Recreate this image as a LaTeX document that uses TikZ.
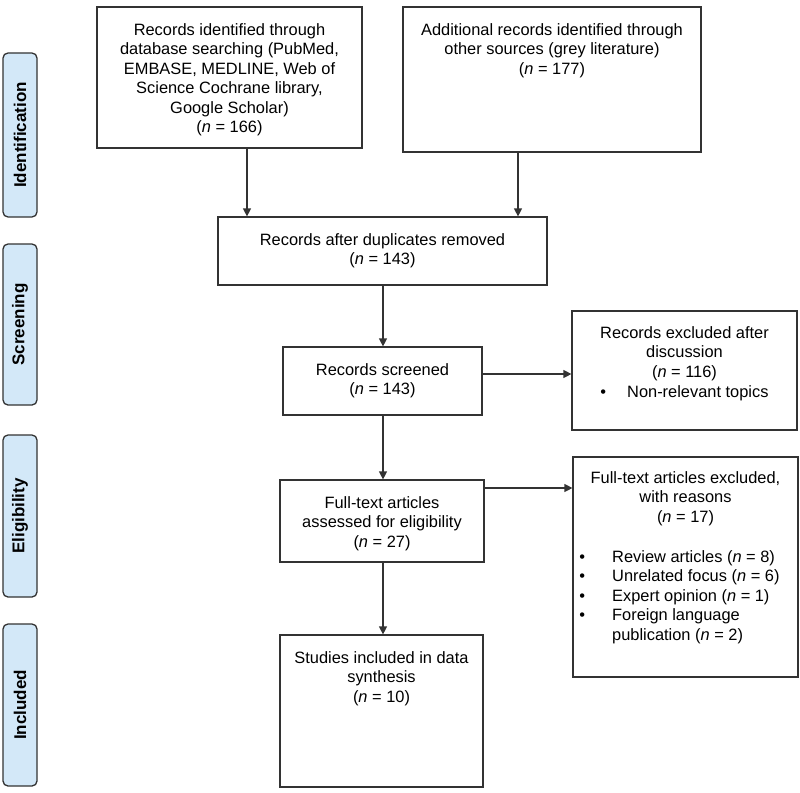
\documentclass[tikz,border=0pt]{standalone}
\usepackage{fontspec}
\setmainfont{Liberation Sans}
\usetikzlibrary{arrows.meta}
\definecolor{sidefill}{HTML}{D3E8F8}
\definecolor{linegray}{HTML}{333333}
\tikzset{
  box/.style={draw=linegray, line width=1.2pt, inner sep=0pt, fill=white},
  sidebox/.style={draw=linegray, line width=1.3pt, rounded corners=5pt, fill=sidefill, inner sep=0pt, minimum width=34pt},
  sidelabel/.style={rotate=90, font=\fontsize{17}{20}\selectfont\bfseries, inner sep=0pt},
  txt/.style={font=\fontsize{16.4}{19.5}\selectfont, align=center, inner sep=0pt, anchor=north},
  ltxt/.style={font=\fontsize{16.4}{19.5}\selectfont, align=left, inner sep=0pt, anchor=north west},
  arr/.style={draw=linegray, line width=1.2pt, -{Triangle[width=8pt,length=8pt]}}
}
\newcommand{\bul}[1]{\llap{\textbullet\hspace{#1}}}
\begin{document}
\begin{tikzpicture}[x=1pt,y=-1pt]
\useasboundingbox (0,0) rectangle (800,792);
% side labels
\node[sidebox, minimum height=164pt] (sid) at (20,135) {};
\node[sidelabel] (lid) at (20,135) {Identification};
\node[sidebox, minimum height=161pt] (ssc) at (20,324.5) {};
\node[sidelabel] (lsc) at (20,324.5) {Screening};
\node[sidebox, minimum height=162pt] (sel) at (20,516) {};
\node[sidelabel] (lel) at (20,516) {Eligibility};
\node[sidebox, minimum height=162pt] (sin) at (20,705) {};
\node[sidelabel] (lin) at (20,705) {Included};
% boxes
\node[box, minimum width=265pt, minimum height=141pt] (b1) at (229.5,77.5) {};
\node[box, minimum width=298pt, minimum height=145pt] (b2) at (552,79.5) {};
\node[box, minimum width=329pt, minimum height=68pt] (b3) at (382.5,251) {};
\node[box, minimum width=199pt, minimum height=68pt] (b4) at (382.5,381) {};
\node[box, minimum width=225pt, minimum height=119pt] (b5) at (684.5,370.5) {};
\node[box, minimum width=204pt, minimum height=82pt] (b6) at (382,521) {};
\node[box, minimum width=225pt, minimum height=220pt] (b7) at (685.5,567) {};
\node[box, minimum width=203pt, minimum height=152pt] (b8) at (381.5,711) {};
% texts
\node[txt] (t1) at (229.5,23) {Records identified through\\database searching (PubMed,\\EMBASE, MEDLINE, Web of\\Science Cochrane library,\\Google Scholar)\\(\textit{n} = 166)};
\node[txt] (t2) at (552,23) {Additional records identified through\\other sources (grey literature)\\(\textit{n} = 177)};
\node[txt] (t3) at (382.5,233) {Records after duplicates removed\\(\textit{n} = 143)};
\node[txt] (t4) at (382.5,363) {Records screened\\(\textit{n} = 143)};
\node[txt] (t5) at (684.5,326) {Records excluded after\\discussion\\(\textit{n} = 116)};
\node[ltxt] (t5b) at (627,385) {\bul{21pt}Non-relevant topics};
\node[txt] (t6) at (382,496) {Full-text articles\\assessed for eligibility\\(\textit{n} = 27)};
\node[txt] (t7) at (685.5,471) {Full-text articles excluded,\\with reasons\\(\textit{n} = 17)};
\node[ltxt] (t7b) at (612,550) {\bul{27pt}Review articles (\textit{n} = 8)\\\bul{27pt}Unrelated focus (\textit{n} = 6)\\\bul{27pt}Expert opinion (\textit{n} = 1)\\\bul{27pt}Foreign language\\publication (\textit{n} = 2)};
\node[txt] (t8) at (381.5,651) {Studies included in data\\synthesis\\(\textit{n} = 10)};
% arrows
\draw[arr] (b1.south -| 247,0) -- (b3.north -| 247,0);
\draw[arr] (b2.south -| 518,0) -- (b3.north -| 518,0);
\draw[arr] (b3.south -| 383,0) -- (b4.north -| 383,0);
\draw[arr] (b4.east |- 0,374) -- (b5.west |- 0,374);
\draw[arr] (b4.south -| 383,0) -- (b6.north -| 383,0);
\draw[arr] (b6.east |- 0,488) -- (b7.west |- 0,488);
\draw[arr] (b6.south -| 383,0) -- (b8.north -| 383,0);
\end{tikzpicture}
\end{document}
